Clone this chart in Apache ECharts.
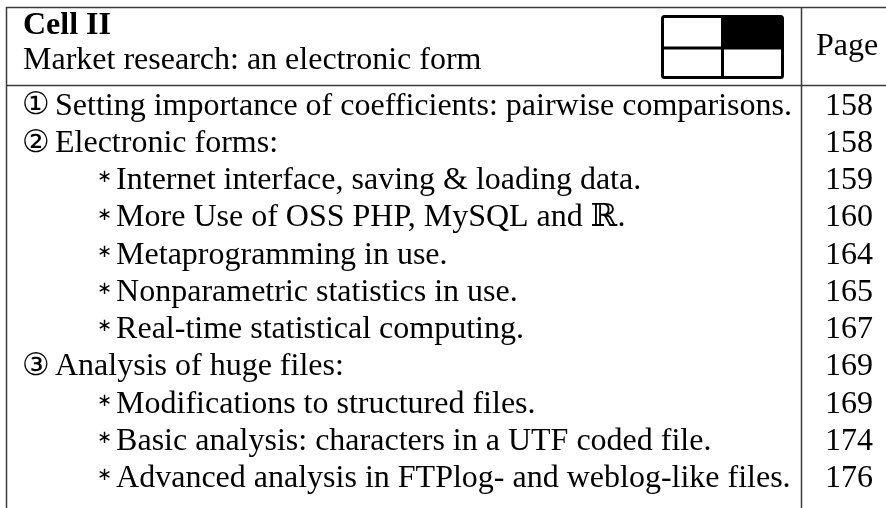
<!DOCTYPE html>
<html>
<head>
<meta charset="utf-8">
<script src="https://cdn.jsdelivr.net/npm/echarts@6/dist/echarts.min.js"></script>
<style>html,body{margin:0;padding:0;background:#fff}#c{width:886px;height:508px}</style>
</head>
<body>
<div id="c"></div>
<script>
const headerTitle = 'Cell II';
const headerSubtitle = 'Market research: an electronic form';
const pageHeader = 'Page';
const items = [
  '① Setting importance of coefficients: pairwise comparisons.',
  '② Electronic forms:',
  '∗ Internet interface, saving & loading data.',
  '∗ More Use of OSS PHP, MySQL and ℝ.',
  '∗ Metaprogramming in use.',
  '∗ Nonparametric statistics in use.',
  '∗ Real-time statistical computing.',
  '③ Analysis of huge files:',
  '∗ Modifications to structured files.',
  '∗ Basic analysis: characters in a UTF coded file.',
  '∗ Advanced analysis in FTPlog- and weblog-like files.'
];
const levels = [0, 0, 1, 1, 1, 1, 1, 0, 1, 1, 1];
const pages = ['158', '158', '159', '160', '164', '165', '167', '169', '169', '174', '176'];

const FONT = '"Liberation Serif", "DejaVu Serif", serif';
const LINE = '#3a3a3a';
const chart = echarts.init(document.getElementById('c'), null, {renderer: 'canvas'});
const gTop = 87.6, gH = 409.6;

function rowLabel(v, i) {
  const k = v.indexOf(' ');
  const mark = v.slice(0, k), rest = v.slice(k + 1);
  return levels[i]
    ? '{si|}{s|' + mark + '}{t|' + rest + '}'
    : '{c|' + mark + '}{t|' + rest + '}';
}

chart.setOption({
  animation: false,
  backgroundColor: '#fff',
  grid: [
    {left: 6, width: 795, top: gTop, height: gH},
    {left: 801, width: 85, top: gTop, height: gH}
  ],
  xAxis: [
    {gridIndex: 0, type: 'value', min: 0, max: 1, show: false},
    {gridIndex: 1, type: 'value', min: 0, max: 1, show: false}
  ],
  yAxis: [
    {
      gridIndex: 0, type: 'category', data: items, inverse: true,
      axisLine: {show: false}, axisTick: {show: false}, splitLine: {show: false},
      axisLabel: {
        inside: true, margin: 16, align: 'left', interval: 0,
        color: '#000', fontFamily: FONT, fontSize: 32,
        formatter: rowLabel,
        rich: {
          t: {color: '#000', fontFamily: FONT, fontSize: 32},
          c: {color: '#000', fontFamily: '"DejaVu Sans", sans-serif', fontSize: 31, width: 33},
          si: {width: 75, fontSize: 32},
          s: {color: '#000', fontFamily: '"DejaVu Sans", sans-serif', fontSize: 18, verticalAlign: 'middle', padding: [0, 4, 6, 0]}
        }
      }
    },
    {
      gridIndex: 1, type: 'category', data: pages, inverse: true,
      axisLine: {show: false}, axisTick: {show: false}, splitLine: {show: false},
      axisLabel: {
        inside: true, margin: 72, align: 'right', interval: 0,
        color: '#000', fontFamily: FONT, fontSize: 32
      }
    }
  ],
  series: [
    {type: 'scatter', xAxisIndex: 0, yAxisIndex: 0, symbolSize: 0, silent: true,
     data: items.map((_, i) => [0, i])},
    {type: 'scatter', xAxisIndex: 1, yAxisIndex: 1, symbolSize: 0, silent: true,
     data: pages.map((_, i) => [0, i])}
  ],
  graphic: [
    {type: 'line', shape: {x1: 6, y1: 7.5, x2: 886, y2: 7.5}, style: {stroke: LINE, lineWidth: 1.5}},
    {type: 'line', shape: {x1: 6, y1: 85.5, x2: 886, y2: 85.5}, style: {stroke: LINE, lineWidth: 1.5}},
    {type: 'line', shape: {x1: 6.5, y1: 7, x2: 6.5, y2: 508}, style: {stroke: LINE, lineWidth: 1.5}},
    {type: 'line', shape: {x1: 801.5, y1: 7, x2: 801.5, y2: 508}, style: {stroke: LINE, lineWidth: 1.5}},
    {type: 'text', x: 23, y: 25.5, style: {text: headerTitle, font: 'bold 32px ' + FONT, fill: '#000', verticalAlign: 'middle', align: 'left'}},
    {type: 'text', x: 23, y: 61, style: {text: headerSubtitle, font: '32px ' + FONT, fill: '#000', verticalAlign: 'middle', align: 'left'}},
    {type: 'text', x: 847, y: 46.5, style: {text: pageHeader, font: '32px ' + FONT, fill: '#000', verticalAlign: 'middle', align: 'center'}},
    {type: 'rect', shape: {x: 662.5, y: 16.5, width: 120, height: 61, r: 2}, style: {fill: '#fff', stroke: '#000', lineWidth: 3}},
    {type: 'rect', shape: {x: 722.5, y: 16.5, width: 60, height: 31.5}, style: {fill: '#000'}},
    {type: 'line', shape: {x1: 722.5, y1: 16.5, x2: 722.5, y2: 77.5}, style: {stroke: '#000', lineWidth: 3}},
    {type: 'line', shape: {x1: 662.5, y1: 48, x2: 782.5, y2: 48}, style: {stroke: '#000', lineWidth: 3}}
  ]
});
</script>
</body>
</html>
